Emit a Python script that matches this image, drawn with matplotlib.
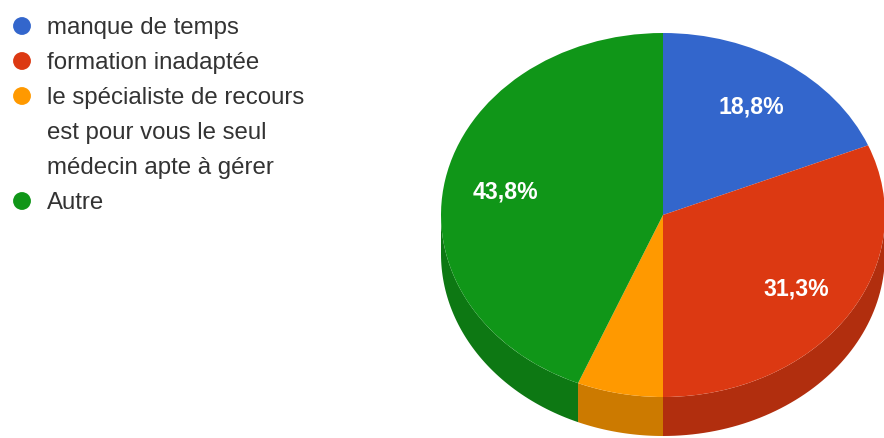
import math
import matplotlib
matplotlib.use("Agg")
import matplotlib.pyplot as plt
from matplotlib.patches import Polygon
import numpy as np

# reponses (parts en %), dans l'ordre du camembert, sens horaire depuis midi
categories = ["manque de temps",
              "formation inadaptée",
              "le spécialiste de recours\nest pour vous le seul\nmédecin apte à gérer",
              "Autre"]
shares = [18.75, 31.25, 6.25, 43.75]
colors = ["#3366cc", "#dc3912", "#ff9900", "#109618"]
side_colors = ["#2a52a3", "#b12e0e", "#cc7a00", "#0d7813"]

plt.rcParams['font.family'] = ['Liberation Sans', 'DejaVu Sans']

W, H = 884, 439
fig = plt.figure(figsize=(W / 100, H / 100), dpi=100)

# --- legende (a la main, en pixels) ---
lax = fig.add_axes([0, 0, 1, 1])
lax.set_xlim(0, W)
lax.set_ylim(H, 0)
lax.axis('off')
y = 27
step = 35
for lab, c in zip(categories, colors):
    lax.scatter([22], [y], s=165, color=c, edgecolors='none')
    for line in lab.split("\n"):
        lax.text(47, y + 7, line, fontsize=17.3, color="#333333",
                 ha='left', va='baseline')
        y += step

# --- camembert 3D ---
cx, cy = 663, 216       # centre de la face du dessus (px, depuis le haut)
rx, ry = 222, 182       # demi-axes
thick = 39 / ry         # epaisseur en unites
x0, x1 = -1.1, 1.1
y0, y1 = -1.4, 1.15
ax = fig.add_axes([(cx + x0 * rx) / W, (H - cy + y0 * ry) / H,
                   (x1 - x0) * rx / W, (y1 - y0) * ry / H])


def fmt(p):
    if p < 10:
        return ""
    v = math.floor(p * 10 + 0.5 + 1e-9) / 10
    return ("%.1f%%" % v).replace(".", ",")


wedges, texts, autotexts = ax.pie(shares, colors=colors, startangle=90,
                                  counterclock=False, autopct=fmt,
                                  pctdistance=0.72,
                                  wedgeprops=dict(linewidth=0),
                                  textprops=dict(color="white", fontsize=16.6,
                                                 fontweight='bold'))

# bord visible (moitie basse)
for w, sc in zip(wedges, side_colors):
    for k in (-360, 0, 360):
        lo = max(w.theta1 + k, -180)
        hi = min(w.theta2 + k, 0)
        if hi <= lo:
            continue
        a = np.radians(np.linspace(lo, hi, 60))
        top = np.column_stack([np.cos(a), np.sin(a)])
        bot = np.column_stack([np.cos(a[::-1]), np.sin(a[::-1]) - thick])
        ax.add_patch(Polygon(np.vstack([top, bot]), closed=True,
                             facecolor=sc, edgecolor='none', zorder=0.5))

# etiquette "Autre" placee comme dans l'original
autotexts[3].set_position((-0.71, 0.13))

ax.set_aspect('auto')
ax.set_xlim(x0, x1)
ax.set_ylim(y0, y1)
ax.axis('off')

fig.savefig("out.png", dpi=100)
